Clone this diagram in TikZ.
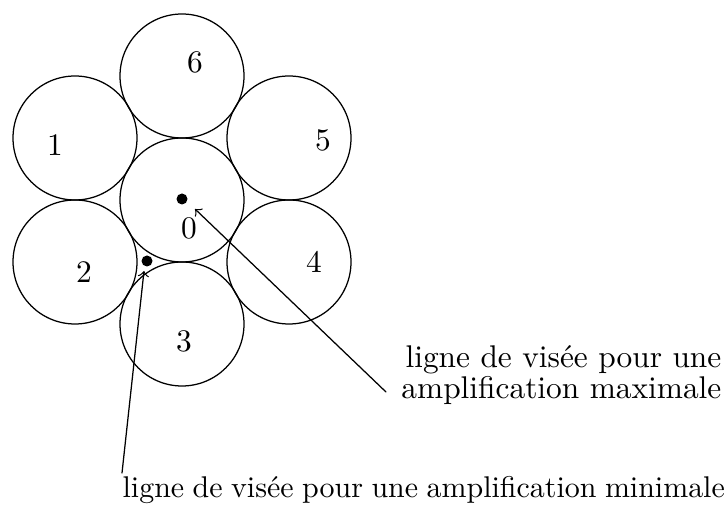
\documentclass[tikz,border=0pt]{standalone}
\usepackage{fontspec}
\begin{document}
\begin{tikzpicture}
% hexagonal arrangement of seven fields
\def\pxsz{0.0112cm}
\providecommand{\fieldRadius}{62}
\begin{scope}[x=\pxsz, y=-\pxsz, line cap=round, line join=round]
  \useasboundingbox (0,0) rectangle (728,509);
  % Fields
  \begin{scope}[thin]
    \draw (182,200) circle (\fieldRadius);
    \draw (182,76) circle (\fieldRadius);
    \draw (182,324) circle (\fieldRadius);
    \draw (75,138) circle (\fieldRadius);
    \draw (75,262) circle (\fieldRadius);
    \draw (289,138) circle (\fieldRadius);
    \draw (289,262) circle (\fieldRadius);
  \end{scope}
  % Field numbers
  \node (n0) at (189,228) {0};
  \node (n1) at (55,145) {1};
  \node (n2) at (84,272) {2};
  \node (n3) at (184,341) {3};
  \node (n4) at (314,262) {4};
  \node (n5) at (323,140) {5};
  \node (n6) at (195,62) {6};
  % Lines of sight
  \fill (182,199) circle (5.5) coordinate (maxdot);
  \fill (147,261) circle (5.5) coordinate (mindot);
  \coordinate (maxtip) at (195,209);
  \coordinate (mintip) at (144,271);
  \node[align=right, anchor=east, inner sep=0pt] (maxtxt) at (722,375)
    {ligne de visée pour une\\[-2pt]amplification maximale};
  \node[anchor=west, inner sep=0pt, font=\fontsize{9.55pt}{11pt}\selectfont] (mintxt) at (122,490)
    {\spaceskip=2.7pt plus 1pt minus 1pt ligne de visée pour une amplification minimale};
  \coordinate (maxfoot) at (386,392);
  \coordinate (minfoot) at (122,473);
  \draw[->] (maxfoot) -- (maxtip);
  \draw[->] (minfoot) -- (mintip);
\end{scope}
\end{tikzpicture}
\end{document}
